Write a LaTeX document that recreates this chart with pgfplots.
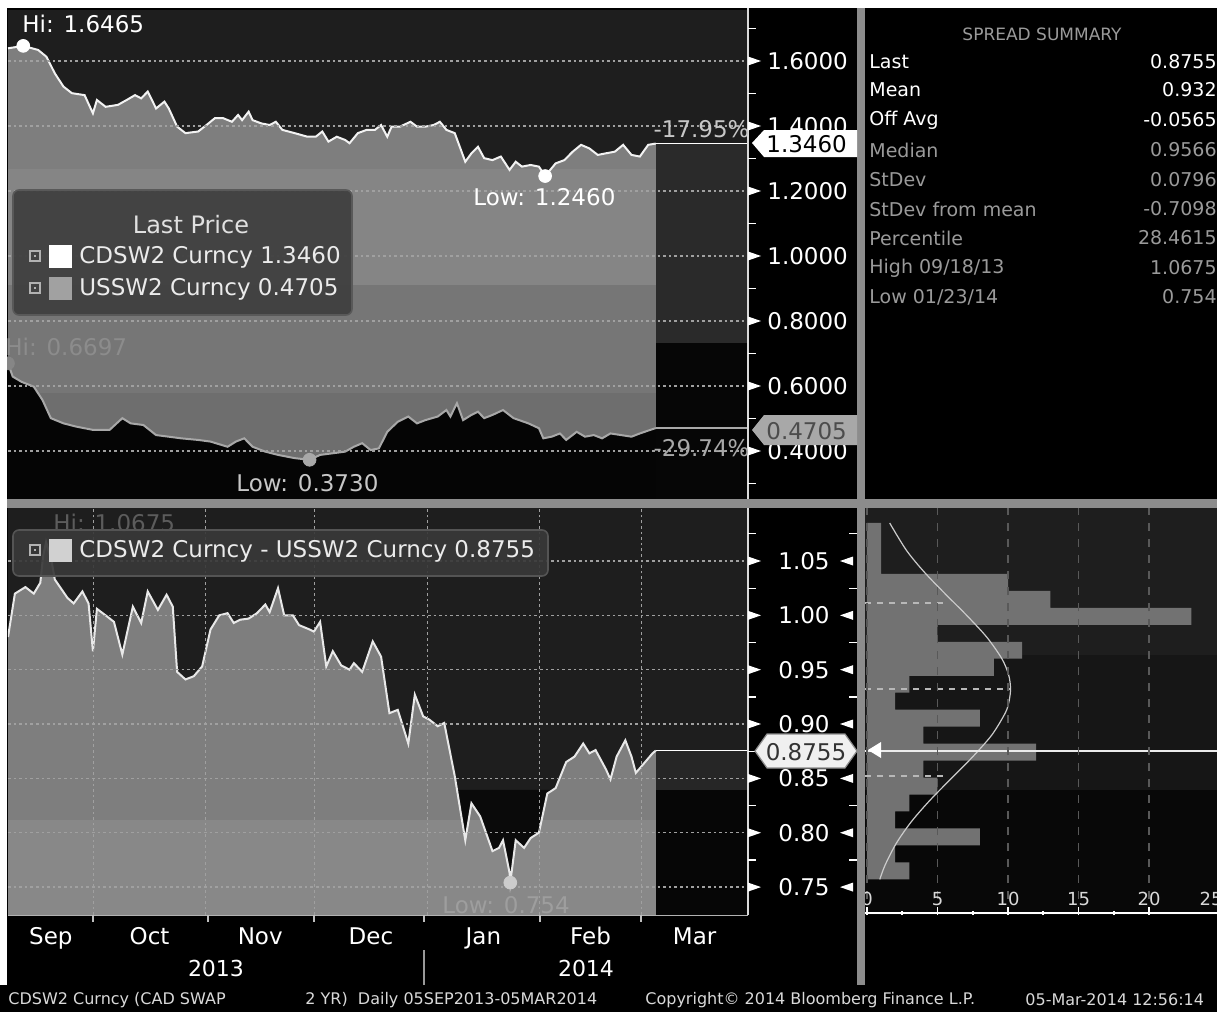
\documentclass[border=0pt]{standalone}
\usepackage{pgfplots}
\pgfplotsset{compat=1.18}
\usepackage{pgfplotstable}
\usepackage{fontspec}
\setmainfont{DejaVu Sans}
\newcommand{\fs}[1]{\fontsize{#1}{#1}\selectfont}
\definecolor{dk}{HTML}{1E1E1E}
\definecolor{fA}{HTML}{7E7E7E}
\definecolor{fB}{HTML}{858585}
\definecolor{fC}{HTML}{767676}
\definecolor{fD}{HTML}{6E6E6E}
\definecolor{usf}{HTML}{050505}
\definecolor{rmid}{HTML}{2A2A2A}
\definecolor{rlow}{HTML}{060606}
\definecolor{bA}{HTML}{7E7E7E}
\definecolor{bB}{HTML}{888888}
\definecolor{dip}{HTML}{0A0A0A}
\definecolor{rmidb}{HTML}{262626}
\definecolor{cdl}{HTML}{F2F2F2}
\definecolor{usl}{HTML}{A8A8A8}
\definecolor{spl}{HTML}{E8E8E8}
\definecolor{gridc}{HTML}{A0A0A0}
\definecolor{divg}{HTML}{8C8C8C}
\definecolor{hA}{HTML}{1E1E1E}
\definecolor{hB}{HTML}{161616}
\definecolor{hC}{HTML}{080808}
\definecolor{hbar}{HTML}{727272}
\definecolor{leg}{HTML}{3E3E3E}
\definecolor{sumg}{HTML}{9A9A9A}

\pgfplotstableread{
d v
6.5 1.639
10.7 1.6465
14.8 1.634
17.1 1.613
19.4 1.562
21.8 1.521
24.1 1.501
27.6 1.495
29.9 1.439
31.0 1.480
33.4 1.459
36.8 1.465
39.2 1.480
41.5 1.495
43.2 1.485
45.0 1.506
47.3 1.454
49.6 1.475
50.8 1.454
53.1 1.398
55.4 1.378
58.9 1.383
61.2 1.403
63.5 1.424
65.8 1.424
68.2 1.413
69.9 1.434
71.0 1.418
72.8 1.444
73.9 1.418
76.3 1.408
78.6 1.403
80.3 1.413
82.1 1.388
85.5 1.378
89.0 1.367
91.3 1.367
93.1 1.383
94.8 1.352
97.1 1.367
99.4 1.357
100.6 1.347
102.9 1.378
105.3 1.388
107.6 1.388
109.3 1.403
111.0 1.367
112.2 1.398
114.5 1.398
117.4 1.413
119.2 1.398
121.5 1.398
123.8 1.403
125.5 1.413
127.3 1.388
129.6 1.378
132.5 1.290
134.2 1.316
136.0 1.336
137.7 1.301
140.0 1.295
142.3 1.306
144.7 1.265
146.4 1.290
148.1 1.275
150.5 1.280
152.8 1.275
154.5 1.246
157.4 1.285
159.8 1.295
162.1 1.321
164.4 1.342
166.7 1.331
169.0 1.311
171.3 1.316
173.7 1.321
176.0 1.342
178.3 1.311
180.6 1.306
182.9 1.342
185.0 1.346
}\cdsw

\pgfplotstableread{
d v
6.5 0.6697
7.8 0.629
10.2 0.613
13.6 0.598
16.0 0.557
18.3 0.501
21.8 0.485
25.3 0.475
29.9 0.465
34.5 0.465
38.0 0.501
40.3 0.485
43.8 0.480
47.3 0.449
50.8 0.444
54.2 0.439
58.9 0.434
62.3 0.429
67.0 0.413
69.3 0.429
71.6 0.439
73.9 0.413
77.4 0.398
80.9 0.388
85.5 0.378
89.6 0.373
92.5 0.388
96.0 0.393
99.4 0.398
101.8 0.413
104.1 0.424
106.4 0.403
108.7 0.408
111.0 0.459
113.9 0.490
116.8 0.506
119.2 0.485
121.5 0.495
124.9 0.506
127.3 0.526
128.4 0.506
130.2 0.547
131.9 0.495
134.2 0.511
136.0 0.521
137.7 0.501
140.0 0.511
142.9 0.526
145.8 0.501
149.9 0.485
152.8 0.470
154.0 0.439
156.3 0.444
158.6 0.454
160.3 0.434
163.2 0.459
165.5 0.444
167.9 0.449
170.2 0.439
172.5 0.454
175.4 0.449
178.3 0.444
180.6 0.454
183.5 0.465
185.0 0.4705
}\ussw

\pgfplotstableread{
d v
6.5 0.980
8.4 1.020
11.3 1.026
13.6 1.020
15.4 1.030
16.2 1.055
17.0 1.0675
18.5 1.050
19.4 1.033
22.9 1.016
24.6 1.011
27.0 1.022
28.7 1.011
29.9 0.967
31.0 1.006
33.4 1.000
35.7 0.994
38.0 0.964
40.9 1.008
43.2 0.993
45.0 1.022
47.8 1.005
50.2 1.019
51.9 1.008
53.1 0.948
55.4 0.941
57.7 0.944
60.0 0.953
62.3 0.987
64.7 1.000
67.0 1.002
68.7 0.993
70.5 0.996
72.8 0.997
75.1 1.002
77.4 1.010
78.6 1.003
80.9 1.025
82.6 1.000
85.0 1.000
86.7 0.991
89.6 0.987
90.8 0.985
92.5 0.994
94.2 0.953
96.0 0.967
98.3 0.954
100.6 0.950
101.8 0.956
104.1 0.948
107.0 0.976
109.3 0.962
111.6 0.910
113.9 0.913
116.8 0.882
118.6 0.927
120.9 0.907
122.6 0.904
124.9 0.898
126.7 0.901
129.6 0.852
132.5 0.793
134.2 0.827
136.6 0.815
140.0 0.783
141.8 0.786
142.9 0.793
144.7 0.763
144.9 0.754
146.4 0.793
148.7 0.786
150.5 0.795
152.8 0.800
155.1 0.836
157.4 0.841
160.3 0.865
162.6 0.870
165.0 0.882
166.7 0.873
168.4 0.876
171.3 0.858
172.5 0.849
174.2 0.870
176.6 0.885
178.3 0.870
179.5 0.855
181.8 0.864
184.1 0.873
185.0 0.8755
}\spread

\pgfplotsset{mainax/.style={
  scale only axis, width=370pt, xmin=6.5, xmax=210.4,
  axis on top, axis line style={draw=none},
  minor xtick={30,61,91,122,153,181}, xminorgrids, ymajorgrids,
  major tick length=0pt, minor tick length=0pt, tick style={draw=none},
  yticklabel pos=right, scaled y ticks=false,
  major grid style={gridc, line width=0.55pt, dash pattern=on 1.3pt off 1.5pt},
  minor grid style={gridc, line width=0.55pt, dash pattern=on 1.3pt off 1.5pt},
  /pgf/number format/assume math mode=true,
  tick label style={font=\fs{11.5}, text=white}}}

\begin{document}
\begin{tikzpicture}[x=0.5pt,y=-0.5pt]
\path[use as bounding box] (0,0) rectangle (1217,1012);
\clip (0,0) rectangle (1217,1012);
\fill[black] (0,0) rectangle (1217,1012);

% ---------------- top panel ----------------
\begin{axis}[mainax, at={(4pt,-249.5pt)}, anchor=south west, height=244.5pt,
  ymin=0.2523, ymax=1.7569, xtick=\empty,
  ytick={0.4,0.6,0.8,1.0,1.2,1.4,1.6},
  yticklabel style={anchor=west, inner sep=0pt, xshift=9.5pt,
    /pgf/number format/fixed, /pgf/number format/fixed zerofill,
    /pgf/number format/precision=4}]
\fill[fA] (axis cs:6.5,1.7569) rectangle (axis cs:185,1.2677);
\fill[fB] (axis cs:6.5,1.2677) rectangle (axis cs:185,0.9108);
\fill[fC] (axis cs:6.5,0.9108) rectangle (axis cs:185,0.5785);
\fill[fD] (axis cs:6.5,0.5785) rectangle (axis cs:185,0.2523);
\addplot[draw=none, fill=dk] table[x=d,y=v]{\cdsw} -- (axis cs:185,1.7569) -- (axis cs:6.5,1.7569) -- cycle;
\addplot[draw=none, fill=usf] table[x=d,y=v]{\ussw} -- (axis cs:185,0.2523) -- (axis cs:6.5,0.2523) -- cycle;
\fill[dk] (axis cs:185,1.7569) rectangle (axis cs:210.4,1.346);
\fill[rmid] (axis cs:185,1.346) rectangle (axis cs:210.4,0.732);
\fill[rlow] (axis cs:185,0.732) rectangle (axis cs:210.4,0.2523);
\addplot[mark=none, color=usl, line width=1pt] table[x=d,y=v]{\ussw};
\addplot[mark=none, color=cdl, line width=1pt] table[x=d,y=v]{\cdsw};
\addplot[mark=none, color=white, line width=0.8pt] coordinates {(185,1.346) (210.4,1.346)};
\addplot[mark=none, color=usl, line width=0.8pt] coordinates {(185,0.4705) (210.4,0.4705)};
\addplot[only marks, mark=*, mark size=3.2pt, color=white] coordinates {(10.7,1.6465) (154.5,1.246)};
\addplot[only marks, mark=*, mark size=3.2pt, color=usl!80!black] coordinates {(6.5,0.6697)};
\addplot[only marks, mark=*, mark size=3.2pt, color=usl] coordinates {(89.6,0.373)};
\end{axis}

% ---------------- bottom panel ----------------
\begin{axis}[mainax, at={(4pt,-457.5pt)}, anchor=south west, height=203.5pt,
  ymin=0.7242, ymax=1.0988,
  xtick={18.3,45.5,76,106.5,137.5,167,195.7},
  xticklabels={Sep,Oct,Nov,Dec,Jan,Feb,Mar},
  xticklabel style={anchor=base, yshift=-14.5pt},
  ytick={0.75,0.8,0.85,0.9,0.95,1.0,1.05},
  yticklabel style={anchor=west, inner sep=0pt, xshift=15pt,
    /pgf/number format/fixed, /pgf/number format/fixed zerofill,
    /pgf/number format/precision=2}]
\fill[bA] (axis cs:6.5,1.0988) rectangle (axis cs:185,0.8117);
\fill[bB] (axis cs:6.5,0.8117) rectangle (axis cs:185,0.7242);
\addplot[draw=none, fill=dk] table[x=d,y=v]{\spread} -- (axis cs:185,1.0988) -- (axis cs:6.5,1.0988) -- cycle;
\addplot[draw=none, fill=dip] coordinates {(130.2,0.8393) (132.5,0.793) (134.2,0.827) (136.6,0.815) (140.0,0.783) (141.8,0.786) (142.9,0.793) (144.7,0.763) (144.9,0.754) (146.4,0.793) (148.7,0.786) (150.5,0.795) (152.8,0.800) (155.1,0.836) (156.5,0.8393)};
\fill[dk] (axis cs:185,1.0988) rectangle (axis cs:210.4,0.8755);
\fill[rmidb] (axis cs:185,0.8755) rectangle (axis cs:210.4,0.8393);
\fill[rlow] (axis cs:185,0.8393) rectangle (axis cs:210.4,0.7242);
\addplot[mark=none, color=spl, line width=1pt] table[x=d,y=v]{\spread};
\addplot[mark=none, color=white, line width=0.8pt] coordinates {(185,0.8755) (210.4,0.8755)};
\addplot[only marks, mark=*, mark size=3.2pt, color=white!80!black] coordinates {(144.9,0.754)};
\end{axis}

% ---------------- histogram ----------------
\begin{axis}[at={(432.5pt,-457.5pt)}, anchor=south west, scale only axis,
  width=176pt, height=203.5pt,
  xmin=-0.14, xmax=24.82, ymin=0.7242, ymax=1.0988,
  axis line style={draw=none}, axis on top,
  ytick=\empty, xtick={0,5,10,15,20}, minor x tick num=1,
  xmajorgrids, major grid style={color=black!65, line width=0.6pt, dash pattern=on 4pt off 4pt},
  xtick pos=left, tick align=inside, major tick length=4pt, minor tick length=2pt,
  tick style={white, line width=0.8pt},
  xticklabel style={anchor=base, yshift=5pt, text=white!85!black, font=\fs{9}},
  /pgf/number format/assume math mode=true]
\fill[hA] (axis cs:-0.14,1.0988) rectangle (axis cs:24.82,0.9635);
\fill[hB] (axis cs:-0.14,0.9635) rectangle (axis cs:24.82,0.8393);
\fill[hC] (axis cs:-0.14,0.8393) rectangle (axis cs:24.82,0.7242);
\addplot[xbar interval, fill=hbar, draw=none] coordinates {(3,0.7570) (2,0.7726) (8,0.7882) (2,0.8039) (3,0.8195) (5,0.8351) (4,0.8507) (12,0.8663) (4,0.8820) (8,0.8976) (2,0.9132) (3,0.9288) (9,0.9444) (11,0.9601) (5,0.9757) (23,0.9913) (13,1.0069) (10,1.0225) (1,1.0382) (1,1.0538) (1,1.0694) (1,1.0850)};
\addplot[mark=none, color=white!72!black, line width=0.8pt, dash pattern=on 3pt off 3pt] coordinates {(-0.14,1.0116) (5.8,1.0116)};
\addplot[mark=none, color=white!72!black, line width=0.8pt, dash pattern=on 3pt off 3pt] coordinates {(-0.14,0.932) (10.1,0.932)};
\addplot[mark=none, color=white!72!black, line width=0.8pt, dash pattern=on 3pt off 3pt] coordinates {(-0.14,0.8524) (5.5,0.8524)};
\addplot[smooth, mark=none, color=white!80!black, line width=0.6pt] coordinates {(1.61,1.085) (2.79,1.06) (4.05,1.04) (5.53,1.02) (7.07,1.0) (8.49,0.98) (9.57,0.96) (10.05,0.945) (10.18,0.932) (10.06,0.92) (9.80,0.91) (8.86,0.89) (7.51,0.87) (5.99,0.85) (4.48,0.83) (3.14,0.81) (2.07,0.79) (1.28,0.77) (0.91,0.757)};
\addplot[mark=none, color=white!92!black, line width=1pt] coordinates {(-0.14,0.8755) (24.82,0.8755)};
\end{axis}

% ---------------- frame, dividers ----------------
\fill[white] (0,0) rectangle (1217,8);
\fill[white] (0,0) rectangle (7,985);
\fill[divg] (857,8) rectangle (865,985);
\fill[divg] (7,499) rectangle (1217,508);
\draw[white!85!black, line width=0.6pt] (748,8) -- (748,499);
\draw[white!85!black, line width=0.6pt] (748,508) -- (748,915);
\draw[white!70!black, line width=0.8pt] (8,915.5) -- (748,915.5);
\draw[white, line width=0.8pt] (865,913) -- (1217,913);
\node[anchor=base, text=white!85!black, font=\fs{9}, inner sep=0pt] at (1211,905) {25};
\foreach \p in {93,208,314,424,540,641} {\draw[white!75!black, line width=0.8pt] (\p,915) -- (\p,922);}

% y tick markers
\foreach \p in {61,126,191,256,321,386,451} {\fill[white] (748,\p-4.5) -- (761,\p) -- (748,\p+4.5) -- cycle;}
\foreach \p in {28.5,93.5,158.5,223.5,288.5,353.5,418.5,483.5} {\draw[white, line width=0.6pt] (748,\p) -- (756,\p);}
\foreach \p in {561,615.35,669.7,724,778.4,832.75,887.1} {
  \fill[white] (748,\p-4.5) -- (761,\p) -- (748,\p+4.5) -- cycle;
  \fill[white] (853,\p-4.5) -- (840,\p) -- (853,\p+4.5) -- cycle;}
\foreach \p in {533.8,588.2,642.5,696.9,751.2,805.6,860} {
  \draw[white, line width=0.6pt] (748,\p) -- (756,\p);
  \draw[white, line width=0.6pt] (849,\p) -- (857,\p);}
\fill[white] (868,750) -- (881,742) -- (881,758) -- cycle;

% callouts
\fill[white] (752,143) -- (764,130) -- (857,130) -- (857,157) -- (764,157) -- cycle;
\node[anchor=west, inner sep=0pt, text=black, font=\fs{11.5}] at (766,144) {1.3460};
\fill[white!66!black] (752,430) -- (764,415) -- (857,415) -- (857,445) -- (764,445) -- cycle;
\node[anchor=west, inner sep=0pt, text=black!70, font=\fs{11.5}] at (766,431) {0.4705};
\filldraw[fill=white!94!black, draw=black!45, line width=0.6pt] (755,751) -- (767,734) -- (845,734) -- (857,751) -- (845,768) -- (767,768) -- cycle;
\node[inner sep=0pt, text=black!80, font=\fs{11.5}] at (806,752) {0.8755};
\node[anchor=east, inner sep=0pt, text=white!78!black, font=\fs{11.5}] at (750,129) {-17.95\%};
\node[anchor=east, inner sep=0pt, text=white!66!black, font=\fs{11.5}] at (750,448) {-29.74\%};

% annotations
\node[anchor=west, inner sep=0pt, text=white, font=\fs{11.5}] at (22,24) {Hi: 1.6465};
\node[anchor=west, inner sep=0pt, text=white, font=\fs{11.5}] at (473,197) {Low: 1.2460};
\node[anchor=west, inner sep=0pt, text=white!55!black, font=\fs{11.5}] at (5,347) {Hi: 0.6697};
\node[anchor=west, inner sep=0pt, text=white!78!black, font=\fs{11.5}] at (236,483) {Low: 0.3730};
\node[anchor=west, inner sep=0pt, text=white!36!black, font=\fs{11.5}] at (53,523) {Hi: 1.0675};
\node[anchor=west, inner sep=0pt, text=white!62!black, font=\fs{11.5}] at (442,905) {Low: 0.754};

% legends
\filldraw[fill=leg, fill opacity=0.92, draw=white!35!black, line width=0.8pt, rounded corners=3pt] (13,190) rectangle (352,315);
\node[inner sep=0pt, text=white!88!black, font=\fs{12}] at (191,225) {Last Price};
\draw[white!70!black, line width=0.6pt] (30,251) rectangle (40,261);
\fill[white!70!black] (34,255) rectangle (36,257);
\fill[white] (49,245) rectangle (72,268);
\node[anchor=west, inner sep=0pt, text=white!92!black, font=\fs{11.5}] at (79,257) {CDSW2 Curncy 1.3460};
\draw[white!70!black, line width=0.6pt] (30,283) rectangle (40,293);
\fill[white!70!black] (34,287) rectangle (36,289);
\fill[white!63!black] (49,277) rectangle (72,300);
\node[anchor=west, inner sep=0pt, text=white!92!black, font=\fs{11.5}] at (79,289) {USSW2 Curncy 0.4705};

\filldraw[fill=leg!92!black, fill opacity=0.92, draw=white!33!black, line width=0.8pt, rounded corners=3pt] (13,530) rectangle (548,576);
\draw[white!70!black, line width=0.6pt] (30,545) rectangle (40,555);
\fill[white!70!black] (34,549) rectangle (36,551);
\fill[white!82!black] (49,539) rectangle (72,562);
\node[anchor=west, inner sep=0pt, text=white!92!black, font=\fs{11.5}] at (79,551) {CDSW2 Curncy - USSW2 Curncy 0.8755};

% summary
\node[text=sumg, font=\fs{8.5}, inner sep=0pt] at (1042,34) {SPREAD SUMMARY};
\begin{scope}[every node/.style={inner sep=0pt, font=\fs{9.5}}]
\node[anchor=west, text=white] at (869,62) {Last};
\node[anchor=east, text=white] at (1217,62) {0.8755};
\node[anchor=west, text=white] at (869,90) {Mean};
\node[anchor=east, text=white] at (1217,90) {0.932};
\node[anchor=west, text=white] at (869,120) {Off Avg};
\node[anchor=east, text=white] at (1217,120) {-0.0565};
\node[anchor=west, text=sumg] at (869,150) {Median};
\node[anchor=east, text=sumg] at (1217,150) {0.9566};
\node[anchor=west, text=sumg] at (869,180) {StDev};
\node[anchor=east, text=sumg] at (1217,180) {0.0796};
\node[anchor=west, text=sumg] at (869,209) {StDev from mean};
\node[anchor=east, text=sumg] at (1217,209) {-0.7098};
\node[anchor=west, text=sumg] at (869,238) {Percentile};
\node[anchor=east, text=sumg] at (1217,238) {28.4615};
\node[anchor=west, text=sumg] at (869,268) {High 09/18/13};
\node[anchor=east, text=sumg] at (1217,268) {1.0675};
\node[anchor=west, text=sumg] at (869,297) {Low 01/23/14};
\node[anchor=east, text=sumg] at (1217,297) {0.754};
\end{scope}

% years and footer
\node[text=white, font=\fs{11}, inner sep=0pt] at (216,968) {2013};
\node[text=white, font=\fs{11}, inner sep=0pt] at (586,968) {2014};
\draw[white!60!black, line width=0.6pt] (424,950) -- (424,985);
\begin{scope}[every node/.style={inner sep=0pt, font=\fs{8}, text=white!85!black, anchor=west}]
\node at (8,1000) {CDSW2 Curncy (CAD SWAP};
\node at (305,1000) {2 YR)\ \ Daily 05SEP2013-05MAR2014};
\node at (645,1000) {Copyright© 2014 Bloomberg Finance L.P.};
\node at (1025,1000) {05-Mar-2014 12:56:14};
\end{scope}
\end{tikzpicture}
\end{document}
